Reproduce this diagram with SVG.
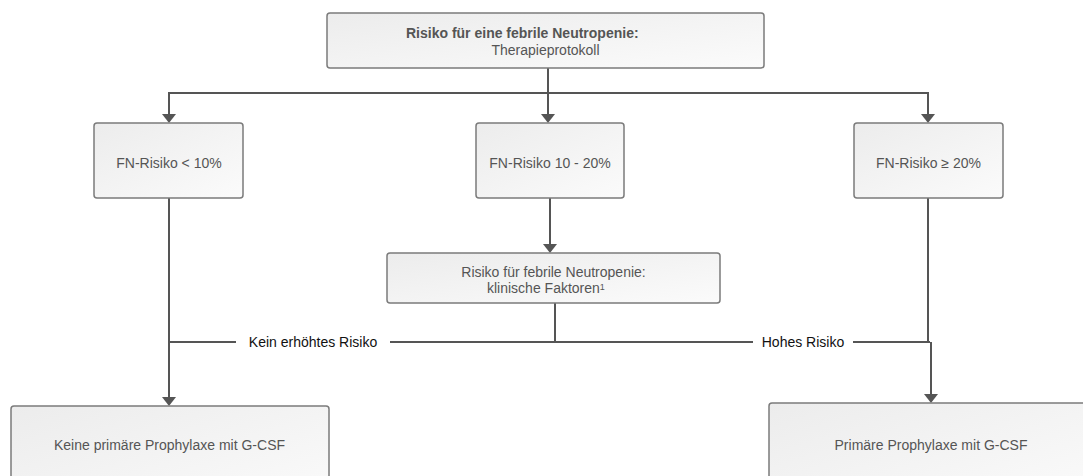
<svg xmlns="http://www.w3.org/2000/svg" width="1083" height="476" viewBox="0 0 1083 476">
<style>
.box{fill:url(#g);stroke:#7b7b7b;stroke-width:1.5}
.t{font-family:"Liberation Sans",Arial,sans-serif;font-size:14px;fill:#555}
.b{font-weight:bold}
.lbl{font-family:"Liberation Sans",Arial,sans-serif;font-size:14px;fill:#111}
.c{fill:none;stroke:#555;stroke-width:2}
.ah{fill:#555}
</style>
<defs>
<linearGradient id="g" x1="0" y1="0" x2="1" y2="1">
<stop offset="0" stop-color="#ececec"/>
<stop offset="1" stop-color="#fbfbfb"/>
</linearGradient>
</defs>
<g id="connectors">
<path class="c" d="M548 68 V114"/>
<path class="c" d="M169 114 V93 H928 V114"/>
<path class="c" d="M550 198 V244"/>
<path class="c" d="M169 198 V397"/>
<path class="c" d="M169 342 H236 M390 342 H753 M853 342 H930"/>
<path class="c" d="M555 303 V342"/>
<path class="c" d="M928 198 V342"/>
<path class="c" d="M931 342 V394"/>
<path class="ah" d="M162 114 L176 114 L169 123 Z"/>
<path class="ah" d="M541 114 L555 114 L548 123 Z"/>
<path class="ah" d="M921 114 L935 114 L928 123 Z"/>
<path class="ah" d="M543 244 L557 244 L550 253 Z"/>
<path class="ah" d="M162 397 L176 397 L169 406 Z"/>
<path class="ah" d="M924 394 L938 394 L931 403 Z"/>
<text class="lbl" x="313" y="347" text-anchor="middle">Kein erhöhtes Risiko</text>
<text class="lbl" x="803" y="347" text-anchor="middle">Hohes Risiko</text>
</g>
<g id="top">
<rect class="box" x="327" y="13" width="437" height="55" rx="3"/>
<text class="t b" x="406" y="38">Risiko für eine febrile Neutropenie:</text>
<text class="t" x="545.5" y="55" text-anchor="middle">Therapieprotokoll</text>
</g>
<g id="low">
<rect class="box" x="94" y="123" width="149" height="75" rx="3"/>
<text class="t" x="169" y="168" text-anchor="middle">FN-Risiko &lt; 10%</text>
</g>
<g id="mid">
<rect class="box" x="476" y="123" width="148" height="75" rx="3"/>
<text class="t" x="550" y="168" text-anchor="middle">FN-Risiko 10 - 20%</text>
</g>
<g id="high">
<rect class="box" x="854" y="123" width="149" height="75" rx="3"/>
<text class="t" x="928.5" y="168" text-anchor="middle">FN-Risiko ≥ 20%</text>
</g>
<g id="clinical">
<rect class="box" x="387" y="253" width="333" height="50" rx="3"/>
<text class="t" x="553.5" y="277" text-anchor="middle">Risiko für febrile Neutropenie:</text>
<text class="t" x="487" y="293">klinische Faktoren<tspan font-size="9px" dy="-3">1</tspan></text>
</g>
<g id="none">
<rect class="box" x="11" y="406" width="318" height="100" rx="3"/>
<text class="t" x="169.5" y="450" text-anchor="middle">Keine primäre Prophylaxe mit G-CSF</text>
</g>
<g id="prophylaxe">
<rect class="box" x="769" y="403" width="324" height="100" rx="3"/>
<text class="t" x="931" y="450" text-anchor="middle">Primäre Prophylaxe mit G-CSF</text>
</g>
</svg>
